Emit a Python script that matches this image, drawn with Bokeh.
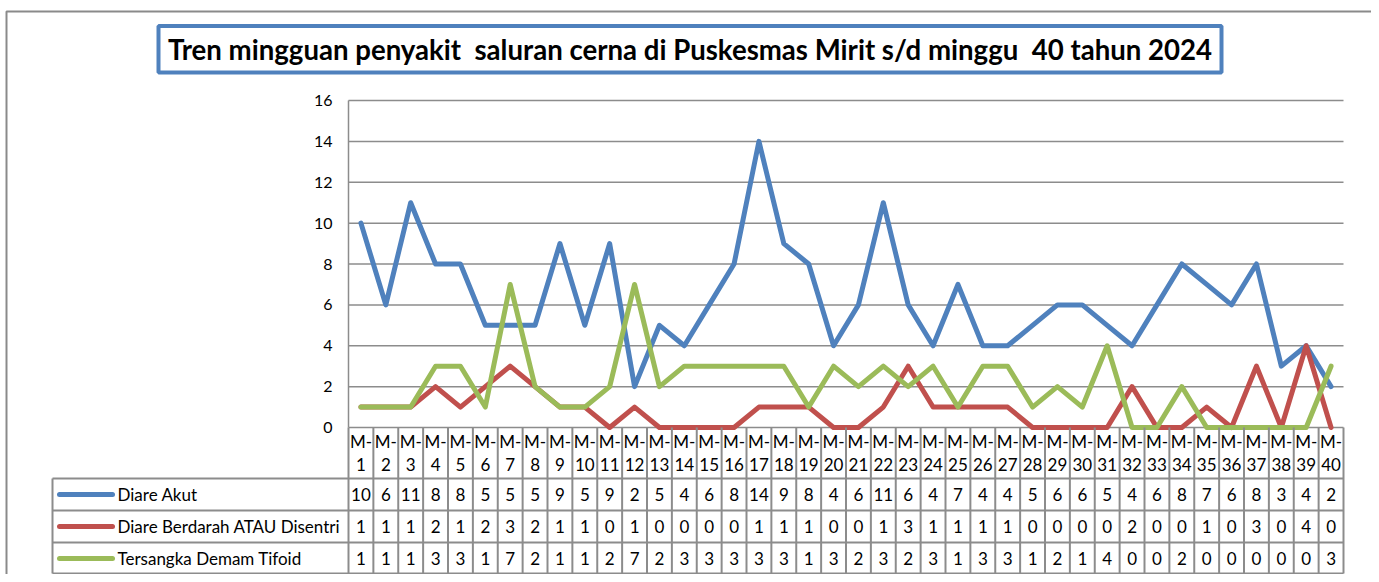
from bokeh.plotting import figure
from bokeh.models import Range1d
from bokeh.core.properties import value
from bokeh.embed import file_html
from bokeh.resources import INLINE

# ---------------- data ----------------
weeks = [f"M-{i}" for i in range(1, 41)]
week_numbers = [str(i) for i in range(1, 41)]
series_names = ["Diare Akut", "Diare Berdarah ATAU Disentri", "Tersangka Demam Tifoid"]
diare_akut = [10, 6, 11, 8, 8, 5, 5, 5, 9, 5, 9, 2, 5, 4, 6, 8, 14, 9, 8, 4,
              6, 11, 6, 4, 7, 4, 4, 5, 6, 6, 5, 4, 6, 8, 7, 6, 8, 3, 4, 2]
disentri = [1, 1, 1, 2, 1, 2, 3, 2, 1, 1, 0, 1, 0, 0, 0, 0, 1, 1, 1, 0,
            0, 1, 3, 1, 1, 1, 1, 0, 0, 0, 0, 2, 0, 0, 1, 0, 3, 0, 4, 0]
tifoid = [1, 1, 1, 3, 3, 1, 7, 2, 1, 1, 2, 7, 2, 3, 3, 3, 3, 3, 1, 3,
          2, 3, 2, 3, 1, 3, 3, 1, 2, 1, 4, 0, 0, 2, 0, 0, 0, 0, 0, 3]
y_ticks = [0, 2, 4, 6, 8, 10, 12, 14, 16]
title_text = "Tren mingguan penyakit \u00a0saluran cerna di Puskesmas Mirit s/d minggu \u00a040 tahun 2024"

colors = ["#4F81BD", "#C0504D", "#9BBB59"]
grid_color = "#8C8C8C"
FONT = "Lato"

# ---------------- layout (screenshot pixels) ----------------
W, H = 1371, 574
X0, COLW = 348.0, 995.0 / 40   # left edge of plot area, column width
Y0, UNIT = 427.0, 327.0 / 16   # y pixel of value 0, pixels per unit


def U(px):  # pixel x -> data x
    return (px - X0) / COLW


def V(py):  # pixel y -> data y
    return (Y0 - py) / UNIT


p = figure(width=W, height=H,
           x_range=Range1d(U(0), U(W)),
           y_range=Range1d(V(H), V(0)),
           x_axis_type=None, y_axis_type=None,
           min_border=0, toolbar_location=None, output_backend="svg")
p.outline_line_color = None
p.xgrid.visible = False
p.ygrid.visible = False
p.background_fill_color = "white"

n = len(weeks)
xs = [i + 0.5 for i in range(n)]

# outer chart border
p.line([U(6), U(6), U(1371.5), U(1371.5)], [V(H), V(11), V(11), V(H)],
       line_color="#8A8A8A", line_width=2)

# title box
p.quad(left=U(158), right=U(1221), top=V(25.5), bottom=V(72),
       fill_color="white", line_color="#4F81BD", line_width=4)
p.text(x=[U(689.5)], y=[V(49)], text=[title_text], text_font=value(FONT),
       text_font_style="bold", text_font_size="27.6px", text_align="center",
       text_baseline="middle", text_color="black")

# horizontal grid lines
p.segment(x0=[0] * len(y_ticks), y0=y_ticks, x1=[n] * len(y_ticks), y1=y_ticks,
          line_color=grid_color, line_width=1.5)
# y axis line
p.segment(x0=[0], y0=[0], x1=[0], y1=[max(y_ticks)], line_color=grid_color, line_width=1.5)
# y tick labels
p.text(x=[U(332)] * len(y_ticks), y=y_ticks, text=[str(t) for t in y_ticks],
       text_font=value(FONT), text_font_size="16px", text_align="right",
       text_baseline="middle", text_color="black")

# series lines
for vals, c in zip([diare_akut, disentri, tifoid], colors):
    p.line(xs, vals, line_color=c, line_width=5, line_join="round", line_cap="round")

# ---------------- data table ----------------
row_edges_px = [478, 510, 542, 573]
tb = V(573)
# column lines
p.segment(x0=list(range(n + 1)), y0=[0] * (n + 1), x1=list(range(n + 1)), y1=[tb] * (n + 1),
          line_color=grid_color, line_width=2)
# row lines
p.segment(x0=[U(52)] * len(row_edges_px), y0=[V(r) for r in row_edges_px],
          x1=[n] * len(row_edges_px), y1=[V(r) for r in row_edges_px],
          line_color=grid_color, line_width=2)
# header column left edge
p.segment(x0=[U(52)], y0=[V(478)], x1=[U(52)], y1=[tb], line_color=grid_color, line_width=2)

# category labels
p.text(x=xs, y=[V(441)] * n, text=["M-"] * n, text_font=value(FONT), text_font_size="17px",
       text_align="center", text_baseline="middle", text_color="black")
p.text(x=xs, y=[V(464)] * n, text=week_numbers, text_font=value(FONT), text_font_size="17px",
       text_align="center", text_baseline="middle", text_color="black")

row_centers = [494, 526, 558]
for vals, c, name, rc in zip([diare_akut, disentri, tifoid], colors, series_names, row_centers):
    p.text(x=xs, y=[V(rc)] * n, text=[str(v) for v in vals], text_font=value(FONT),
           text_font_size="17px", text_align="center", text_baseline="middle", text_color="black")
    p.line([U(59), U(112)], [V(rc), V(rc)], line_color=c, line_width=5, line_cap="round")
    p.text(x=[U(117)], y=[V(rc)], text=[name], text_font=value(FONT), text_font_size="17px",
           text_align="left", text_baseline="middle", text_color="black")

open("out.html", "w").write(file_html(p, INLINE))
